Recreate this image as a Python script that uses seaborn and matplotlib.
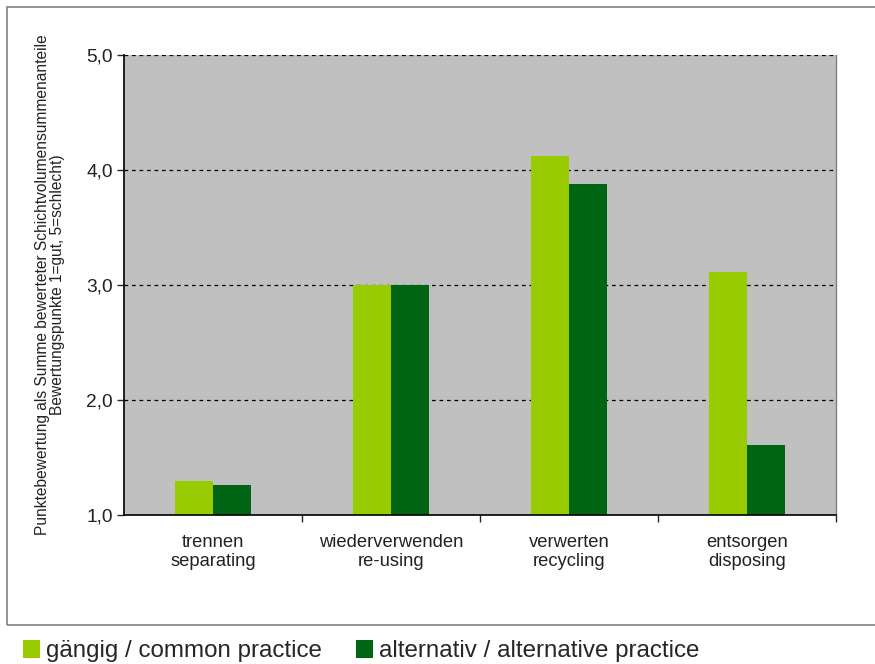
import matplotlib
matplotlib.use("Agg")
import matplotlib.pyplot as plt
from matplotlib.patches import Rectangle, Patch
from matplotlib.ticker import FixedLocator, FuncFormatter
import seaborn as sns
import pandas as pd

# --- data -------------------------------------------------------------
categories = ["trennen\nseparating", "wiederverwenden\nre-using",
              "verwerten\nrecycling", "entsorgen\ndisposing"]
series_names = ["gängig / common practice", "alternativ / alternative practice"]
common_values = [1.30, 3.00, 4.12, 3.11]
alternative_values = [1.26, 3.00, 3.88, 1.61]
y_ticks = [1.0, 2.0, 3.0, 4.0, 5.0]
y_label = ("Punktebewertung als Summe bewerteter Schichtvolumensummenanteile\n"
           "Bewertungspunkte 1=gut, 5=schlecht)")

colors = ["#99cc00", "#006614"]

df = pd.DataFrame({
    "Kategorie": categories * 2,
    "Reihe": [series_names[0]] * 4 + [series_names[1]] * 4,
    "Wert": common_values + alternative_values,
})

sns.set_style("white")
plt.rcParams["font.family"] = ["Liberation Sans", "DejaVu Sans"]

fig = plt.figure(figsize=(8.75, 6.64), dpi=100)
ax = fig.add_axes([124 / 875, 1 - 515 / 664, 712 / 875, 460 / 664])

sns.barplot(data=df, x="Kategorie", y="Wert", hue="Reihe", order=categories,
            hue_order=series_names, palette=colors, width=0.43,
            saturation=1, ax=ax, legend=False, linewidth=0)

ax.set_facecolor("#c0c0c0")
ax.set_xlim(-0.5, 3.5)
ax.set_ylim(1.0, 5.0)
ax.set_xlabel("")
ax.set_ylabel(y_label, fontsize=11.2, family=["Liberation Sans", "DejaVu Sans"],
              color="#222222", labelpad=15, linespacing=1.05)

# y axis: comma decimal labels and outward ticks
ax.yaxis.set_major_locator(FixedLocator(y_ticks))
ax.yaxis.set_major_formatter(FuncFormatter(lambda v, p: f"{v:.1f}".replace(".", ",")))
ax.tick_params(axis="y", direction="out", length=5, width=1, labelsize=13.8, pad=3,
               left=True, labelcolor="#222222")

# x axis: labels at centers, ticks at category boundaries
ax.set_xticks(range(len(categories)))
ax.set_xticklabels(categories, fontsize=13.2, linespacing=1.1, color="#222222")
ax.tick_params(axis="x", length=0, pad=14)
ax.xaxis.set_minor_locator(FixedLocator([0.5, 1.5, 2.5, 3.5]))
ax.tick_params(axis="x", which="minor", direction="out", length=5, width=1, bottom=True)

# dashed horizontal gridlines
for v in y_ticks[1:]:
    ax.axhline(v, color="black", linestyle=(0, (3, 3)), linewidth=0.9, zorder=0.5)
ax.set_axisbelow(True)

for side in ["left", "bottom"]:
    ax.spines[side].set_color("black")
    ax.spines[side].set_linewidth(1.2)
ax.spines["right"].set_color("#808080")
ax.spines["right"].set_linewidth(1)
ax.spines["top"].set_visible(False)

# outer chart frame
fig.patches.append(Rectangle((7 / 875, 1 - 625 / 664), 1.0, 618 / 664,
                             transform=fig.transFigure, fill=False,
                             edgecolor="#808080", linewidth=1.2))

handles = [Patch(facecolor=c, edgecolor="none") for c in colors]
fig.legend(handles, series_names, loc="center left",
           bbox_to_anchor=(0.0265, 1 - 651 / 664), ncol=2, frameon=False,
           fontsize=17.4, handlelength=0.7, handleheight=0.8,
           handletextpad=0.25, columnspacing=1.4, borderaxespad=0, borderpad=0.0)

fig.savefig("out.png", dpi=100)
